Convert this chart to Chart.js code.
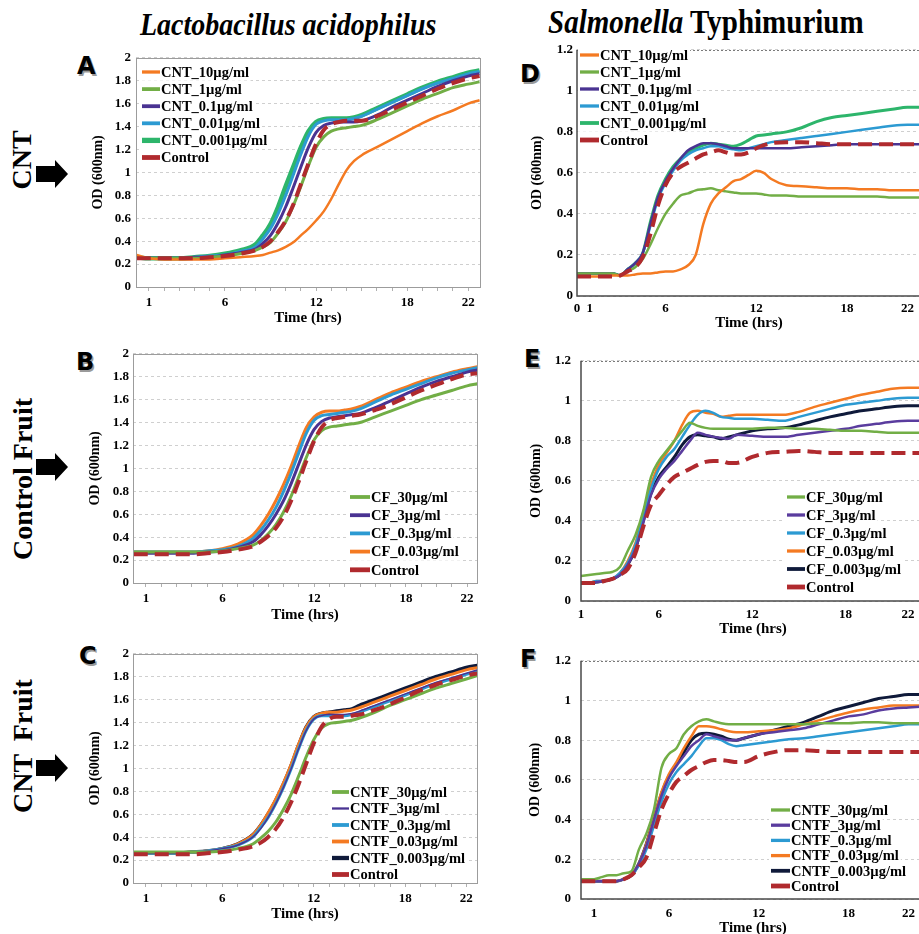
<!DOCTYPE html>
<html lang="en">
<head>
<meta charset="UTF-8">
<title>Growth curves - CNT</title>
<script src="https://cdn.jsdelivr.net/npm/chart.js"></script>
<style>
  html, body { margin: 0; padding: 0; width: 919px; height: 934px; overflow: hidden; background: #fff; }
  .abs { position: absolute; }
  .coltitle { font-family: "Liberation Serif", serif; font-weight: bold; line-height: 1; white-space: nowrap;
              transform: scaleY(1.15); transform-origin: 0 24px; }
  .letter { font-family: "DejaVu Sans", sans-serif; font-weight: bold; font-size: 24px; line-height: 1;
            text-shadow: 1.5px 1.5px 0 #9a9a9a; }
  .rowlab { font-family: "Liberation Serif", serif; font-weight: bold; font-size: 28px; line-height: 1;
            white-space: nowrap; transform: translate(-50%, -50%) rotate(-90deg); }
  canvas { position: absolute; }
</style>
</head>
<body>
  <div class="abs coltitle" style="left:140px; top:12px; font-size:28px;"><i>Lactobacillus acidophilus</i></div>
  <div class="abs coltitle" style="left:548px; top:9px; font-size:29px;"><i>Salmonella</i> Typhimurium</div>

  <div class="abs rowlab" style="left:22px; top:160px;">CNT</div>
  <div class="abs rowlab" style="left:23px; top:479px;">Control Fruit</div>
  <div class="abs rowlab" style="left:23px; top:746px; word-spacing:6px;">CNT Fruit</div>

  <svg class="abs" style="left:36px; top:160px;" width="33" height="29"><polygon points="0,6 19,6 19,0 32,14 19,28 19,22 0,22" fill="#000"/></svg>
  <svg class="abs" style="left:36px; top:453px;" width="33" height="29"><polygon points="0,6 19,6 19,0 32,14 19,28 19,22 0,22" fill="#000"/></svg>
  <svg class="abs" style="left:36px; top:754px;" width="33" height="29"><polygon points="0,6 19,6 19,0 32,14 19,28 19,22 0,22" fill="#000"/></svg>

  <div class="abs letter" style="left:77px; top:54px;">A</div>
  <div class="abs letter" style="left:76px; top:350px;">B</div>
  <div class="abs letter" style="left:79px; top:644px;">C</div>
  <div class="abs letter" style="left:520px; top:62px;">D</div>
  <div class="abs letter" style="left:524px; top:347px;">E</div>
  <div class="abs letter" style="left:520px; top:647px;">F</div>

<script>
// ---- time axes (hrs) ----
const tLacto = [0.2, 1, 2, 3, 4, 5, 6, 7, 8, 8.5, 9, 9.5, 10, 10.5, 11, 11.5, 12, 12.5, 13, 13.5, 14, 14.5, 15, 16, 17, 18, 19, 20, 21, 22, 22.75];
const tSalmD = [0.15, 1, 2, 2.5, 3, 3.5, 4, 4.5, 5, 5.5, 6, 6.5, 7, 7.5, 8, 8.5, 9, 9.5, 10, 10.5, 11, 11.5, 12, 12.5, 13, 14, 15, 16, 17, 18, 19, 20, 21, 22, 22.9];
const tSalmE = [1, 1.5, 2, 2.5, 3, 3.5, 4, 4.5, 5, 5.5, 6, 6.5, 7, 7.5, 8, 8.5, 9, 9.5, 10, 10.5, 11, 12, 13, 14, 15, 16, 17, 18, 19, 20, 21, 22, 23];
const tSalmF = [0.15, 1, 1.5, 2, 2.5, 3, 3.5, 4, 4.5, 5, 5.5, 6, 6.5, 7, 7.5, 8, 8.5, 9, 9.5, 10, 10.5, 11, 12, 13, 14, 15, 16, 17, 18, 19, 20, 21, 22, 23];

// ---- legend labels ----
const labelsCNT = ['CNT_10µg/ml', 'CNT_1µg/ml', 'CNT_0.1µg/ml', 'CNT_0.01µg/ml', 'CNT_0.001µg/ml', 'Control'];
const labelsCF_B = ['CF_30µg/ml', 'CF_3µg/ml', 'CF_0.3µg/ml', 'CF_0.03µg/ml', 'Control'];
const labelsCF_E = ['CF_30µg/ml', 'CF_3µg/ml', 'CF_0.3µg/ml', 'CF_0.03µg/ml', 'CF_0.003µg/ml', 'Control'];
const labelsCNTF = ['CNTF_30µg/ml', 'CNTF_3µg/ml', 'CNTF_0.3µg/ml', 'CNTF_0.03µg/ml', 'CNTF_0.003µg/ml', 'Control'];

// ---- tick labels ----
const lactoLabelHours = [1, 6, 12, 18, 22];
const lactoMinorHours = [1, 2, 3, 4, 5, 6, 7, 8, 9, 10, 11, 12, 13, 14, 15, 16, 17, 18, 19, 20, 21, 22];
const dTickHours = [0.15, 1, 6, 12, 18, 22];
const dTickLabels = ['0', '1', '6', '12', '18', '22'];
const salmTickHours = [1, 6, 12, 18, 22];

// ---- A: L. acidophilus + CNT ----
const cnt10A   = [0.28, 0.25, 0.24, 0.24, 0.24, 0.24, 0.25, 0.26, 0.27, 0.28, 0.30, 0.32, 0.35, 0.39, 0.45, 0.51, 0.58, 0.66, 0.77, 0.90, 1.02, 1.10, 1.15, 1.22, 1.29, 1.36, 1.43, 1.49, 1.54, 1.60, 1.63];
const cnt1A    = [0.26, 0.25, 0.25, 0.25, 0.25, 0.26, 0.27, 0.29, 0.32, 0.35, 0.39, 0.47, 0.57, 0.71, 0.88, 1.06, 1.22, 1.31, 1.36, 1.38, 1.39, 1.40, 1.41, 1.46, 1.52, 1.58, 1.64, 1.69, 1.74, 1.77, 1.79];
const cnt01A   = [0.26, 0.25, 0.25, 0.25, 0.26, 0.26, 0.28, 0.30, 0.33, 0.38, 0.45, 0.56, 0.70, 0.87, 1.05, 1.22, 1.35, 1.41, 1.43, 1.44, 1.44, 1.44, 1.45, 1.50, 1.57, 1.63, 1.69, 1.75, 1.80, 1.84, 1.86];
const cnt001A  = [0.26, 0.25, 0.25, 0.25, 0.26, 0.27, 0.28, 0.31, 0.35, 0.42, 0.51, 0.64, 0.80, 0.98, 1.16, 1.32, 1.42, 1.45, 1.46, 1.46, 1.46, 1.47, 1.49, 1.55, 1.61, 1.67, 1.73, 1.78, 1.82, 1.86, 1.88];
const cnt0001A = [0.26, 0.25, 0.25, 0.25, 0.26, 0.27, 0.29, 0.32, 0.37, 0.45, 0.55, 0.70, 0.88, 1.05, 1.22, 1.36, 1.44, 1.465, 1.47, 1.47, 1.47, 1.48, 1.50, 1.56, 1.62, 1.68, 1.74, 1.79, 1.83, 1.87, 1.89];
const controlA = [0.25, 0.25, 0.25, 0.25, 0.25, 0.26, 0.27, 0.29, 0.32, 0.35, 0.40, 0.48, 0.58, 0.72, 0.90, 1.08, 1.25, 1.37, 1.42, 1.44, 1.45, 1.45, 1.45, 1.49, 1.55, 1.61, 1.67, 1.73, 1.78, 1.82, 1.84];

// ---- B: L. acidophilus + control fruit ----
const cf30B    = [0.27, 0.27, 0.27, 0.27, 0.27, 0.27, 0.28, 0.30, 0.33, 0.37, 0.43, 0.51, 0.62, 0.76, 0.93, 1.10, 1.25, 1.33, 1.36, 1.37, 1.38, 1.39, 1.40, 1.45, 1.50, 1.55, 1.60, 1.64, 1.68, 1.72, 1.74];
const cf3B     = [0.26, 0.26, 0.26, 0.26, 0.26, 0.27, 0.28, 0.31, 0.36, 0.42, 0.50, 0.60, 0.72, 0.87, 1.04, 1.21, 1.34, 1.41, 1.44, 1.45, 1.46, 1.47, 1.48, 1.53, 1.59, 1.65, 1.71, 1.76, 1.80, 1.84, 1.86];
const cf03B    = [0.27, 0.27, 0.27, 0.27, 0.27, 0.28, 0.29, 0.32, 0.39, 0.46, 0.55, 0.66, 0.80, 0.96, 1.14, 1.31, 1.42, 1.46, 1.47, 1.48, 1.49, 1.50, 1.52, 1.58, 1.64, 1.69, 1.74, 1.79, 1.83, 1.86, 1.88];
const cf003B   = [0.27, 0.27, 0.27, 0.27, 0.27, 0.28, 0.30, 0.34, 0.42, 0.50, 0.60, 0.72, 0.86, 1.02, 1.20, 1.36, 1.45, 1.49, 1.50, 1.50, 1.51, 1.52, 1.54, 1.60, 1.66, 1.71, 1.76, 1.80, 1.84, 1.87, 1.89];
const controlB = [0.25, 0.25, 0.25, 0.25, 0.25, 0.26, 0.27, 0.29, 0.32, 0.36, 0.41, 0.48, 0.58, 0.72, 0.89, 1.07, 1.24, 1.36, 1.42, 1.44, 1.45, 1.46, 1.47, 1.51, 1.56, 1.62, 1.68, 1.73, 1.78, 1.82, 1.83];

// ---- C: L. acidophilus + CNT fruit ----
const cntf30C   = [0.27, 0.27, 0.27, 0.27, 0.27, 0.27, 0.28, 0.30, 0.34, 0.39, 0.45, 0.53, 0.64, 0.77, 0.93, 1.10, 1.25, 1.35, 1.39, 1.40, 1.41, 1.42, 1.44, 1.49, 1.55, 1.60, 1.65, 1.70, 1.74, 1.78, 1.81];
const cntf3C    = [0.26, 0.26, 0.26, 0.26, 0.27, 0.28, 0.30, 0.33, 0.40, 0.47, 0.57, 0.69, 0.83, 0.99, 1.17, 1.33, 1.43, 1.46, 1.47, 1.47, 1.47, 1.48, 1.50, 1.55, 1.60, 1.65, 1.70, 1.75, 1.79, 1.83, 1.86];
const cntf03C   = [0.26, 0.26, 0.26, 0.26, 0.27, 0.28, 0.30, 0.33, 0.40, 0.48, 0.57, 0.69, 0.83, 0.99, 1.17, 1.33, 1.43, 1.46, 1.46, 1.46, 1.46, 1.47, 1.49, 1.54, 1.59, 1.64, 1.69, 1.74, 1.78, 1.82, 1.85];
const cntf003C  = [0.26, 0.26, 0.26, 0.26, 0.27, 0.28, 0.30, 0.34, 0.42, 0.50, 0.61, 0.73, 0.87, 1.03, 1.21, 1.36, 1.45, 1.48, 1.49, 1.49, 1.50, 1.51, 1.53, 1.58, 1.63, 1.68, 1.73, 1.78, 1.82, 1.86, 1.88];
const cntf0003C = [0.26, 0.26, 0.26, 0.26, 0.27, 0.28, 0.30, 0.34, 0.42, 0.50, 0.60, 0.72, 0.86, 1.02, 1.20, 1.36, 1.45, 1.48, 1.49, 1.50, 1.51, 1.52, 1.55, 1.60, 1.65, 1.70, 1.75, 1.80, 1.84, 1.88, 1.90];
const controlC  = [0.25, 0.25, 0.25, 0.25, 0.25, 0.26, 0.27, 0.29, 0.32, 0.35, 0.40, 0.47, 0.57, 0.70, 0.86, 1.04, 1.22, 1.36, 1.43, 1.45, 1.45, 1.46, 1.47, 1.51, 1.56, 1.62, 1.68, 1.73, 1.77, 1.81, 1.83];

// ---- D: S. Typhimurium + CNT ----
const cnt10D   = [0.095, 0.095, 0.095, 0.10, 0.10, 0.10, 0.105, 0.11, 0.11, 0.115, 0.12, 0.12, 0.13, 0.15, 0.20, 0.35, 0.45, 0.50, 0.53, 0.56, 0.57, 0.59, 0.61, 0.60, 0.57, 0.54, 0.535, 0.53, 0.525, 0.525, 0.52, 0.52, 0.515, 0.515, 0.515];
const cnt1D    = [0.11, 0.11, 0.11, 0.11, 0.10, 0.12, 0.14, 0.18, 0.25, 0.33, 0.40, 0.45, 0.49, 0.50, 0.515, 0.52, 0.525, 0.515, 0.51, 0.505, 0.50, 0.50, 0.50, 0.495, 0.49, 0.49, 0.485, 0.485, 0.485, 0.485, 0.485, 0.485, 0.48, 0.48, 0.48];
const cnt01D   = [0.11, 0.11, 0.11, 0.11, 0.10, 0.13, 0.16, 0.21, 0.35, 0.48, 0.56, 0.62, 0.67, 0.71, 0.73, 0.745, 0.745, 0.74, 0.73, 0.72, 0.72, 0.72, 0.72, 0.72, 0.72, 0.72, 0.725, 0.73, 0.735, 0.74, 0.74, 0.74, 0.74, 0.74, 0.74];
const cnt001D  = [0.11, 0.11, 0.11, 0.11, 0.10, 0.13, 0.16, 0.21, 0.34, 0.47, 0.55, 0.61, 0.66, 0.69, 0.71, 0.72, 0.73, 0.73, 0.72, 0.715, 0.71, 0.72, 0.73, 0.74, 0.75, 0.76, 0.77, 0.78, 0.79, 0.80, 0.81, 0.82, 0.83, 0.835, 0.835];
const cnt0001D = [0.11, 0.11, 0.11, 0.11, 0.10, 0.13, 0.16, 0.21, 0.36, 0.49, 0.57, 0.63, 0.67, 0.70, 0.72, 0.735, 0.745, 0.74, 0.735, 0.73, 0.74, 0.76, 0.78, 0.785, 0.79, 0.80, 0.82, 0.85, 0.87, 0.88, 0.89, 0.90, 0.91, 0.92, 0.92];
const controlD = [0.095, 0.095, 0.095, 0.095, 0.10, 0.12, 0.14, 0.19, 0.30, 0.44, 0.54, 0.60, 0.63, 0.65, 0.67, 0.69, 0.70, 0.71, 0.70, 0.69, 0.69, 0.70, 0.72, 0.735, 0.745, 0.75, 0.75, 0.745, 0.74, 0.74, 0.74, 0.74, 0.74, 0.74, 0.74];

// ---- E: S. Typhimurium + control fruit ----
const cf30E    = [0.125, 0.13, 0.135, 0.14, 0.145, 0.17, 0.25, 0.33, 0.45, 0.62, 0.70, 0.75, 0.80, 0.85, 0.89, 0.875, 0.865, 0.86, 0.86, 0.86, 0.86, 0.86, 0.865, 0.865, 0.86, 0.86, 0.855, 0.85, 0.85, 0.845, 0.84, 0.84, 0.84];
const cf3E     = [0.09, 0.09, 0.095, 0.10, 0.11, 0.13, 0.18, 0.26, 0.39, 0.53, 0.61, 0.66, 0.70, 0.75, 0.80, 0.84, 0.83, 0.82, 0.815, 0.81, 0.83, 0.825, 0.82, 0.82, 0.83, 0.84, 0.85, 0.86, 0.875, 0.885, 0.895, 0.90, 0.90];
const cf03E    = [0.09, 0.09, 0.10, 0.10, 0.11, 0.14, 0.19, 0.28, 0.42, 0.56, 0.66, 0.72, 0.76, 0.82, 0.88, 0.93, 0.95, 0.94, 0.92, 0.915, 0.91, 0.91, 0.905, 0.90, 0.92, 0.94, 0.96, 0.98, 0.99, 1.00, 1.01, 1.015, 1.015];
const cf003E   = [0.09, 0.09, 0.10, 0.10, 0.11, 0.14, 0.20, 0.29, 0.44, 0.58, 0.68, 0.74, 0.80, 0.88, 0.94, 0.95, 0.94, 0.935, 0.92, 0.925, 0.93, 0.93, 0.93, 0.93, 0.945, 0.97, 0.99, 1.01, 1.03, 1.045, 1.06, 1.065, 1.065];
const cf0003E  = [0.09, 0.09, 0.095, 0.10, 0.11, 0.13, 0.18, 0.26, 0.40, 0.54, 0.62, 0.67, 0.72, 0.78, 0.82, 0.83, 0.825, 0.82, 0.81, 0.82, 0.83, 0.85, 0.86, 0.865, 0.88, 0.90, 0.92, 0.935, 0.95, 0.96, 0.97, 0.975, 0.975];
const controlE = [0.09, 0.09, 0.09, 0.10, 0.11, 0.13, 0.16, 0.24, 0.37, 0.48, 0.53, 0.58, 0.62, 0.64, 0.66, 0.68, 0.695, 0.70, 0.70, 0.69, 0.69, 0.72, 0.74, 0.745, 0.75, 0.745, 0.74, 0.74, 0.74, 0.74, 0.74, 0.74, 0.74];

// ---- F: S. Typhimurium + CNT fruit ----
const cntf30F   = [0.10, 0.10, 0.11, 0.12, 0.12, 0.13, 0.14, 0.25, 0.33, 0.45, 0.66, 0.73, 0.76, 0.83, 0.87, 0.895, 0.905, 0.895, 0.885, 0.88, 0.88, 0.88, 0.88, 0.88, 0.88, 0.88, 0.885, 0.885, 0.885, 0.89, 0.89, 0.885, 0.885, 0.885];
const cntf3F    = [0.09, 0.09, 0.09, 0.09, 0.09, 0.10, 0.12, 0.18, 0.27, 0.40, 0.52, 0.61, 0.67, 0.72, 0.77, 0.80, 0.83, 0.82, 0.81, 0.80, 0.80, 0.81, 0.83, 0.84, 0.85, 0.86, 0.88, 0.90, 0.92, 0.93, 0.95, 0.96, 0.965, 0.97];
const cntf03F   = [0.09, 0.09, 0.09, 0.09, 0.09, 0.10, 0.12, 0.17, 0.25, 0.37, 0.49, 0.58, 0.64, 0.68, 0.72, 0.77, 0.81, 0.81, 0.80, 0.78, 0.77, 0.775, 0.785, 0.795, 0.805, 0.81, 0.82, 0.83, 0.84, 0.85, 0.86, 0.87, 0.88, 0.88];
const cntf003F  = [0.09, 0.09, 0.09, 0.09, 0.09, 0.10, 0.12, 0.18, 0.28, 0.41, 0.54, 0.63, 0.69, 0.76, 0.82, 0.87, 0.87, 0.865, 0.855, 0.845, 0.84, 0.84, 0.845, 0.85, 0.86, 0.88, 0.90, 0.92, 0.94, 0.955, 0.965, 0.975, 0.975, 0.975];
const cntf0003F = [0.09, 0.09, 0.09, 0.09, 0.09, 0.10, 0.12, 0.18, 0.28, 0.41, 0.53, 0.62, 0.68, 0.74, 0.80, 0.83, 0.835, 0.83, 0.82, 0.805, 0.80, 0.81, 0.83, 0.85, 0.87, 0.89, 0.92, 0.95, 0.97, 0.99, 1.01, 1.02, 1.03, 1.03];
const controlF  = [0.09, 0.09, 0.09, 0.09, 0.09, 0.10, 0.12, 0.16, 0.21, 0.33, 0.45, 0.53, 0.59, 0.62, 0.65, 0.67, 0.69, 0.70, 0.70, 0.695, 0.69, 0.69, 0.72, 0.74, 0.75, 0.75, 0.745, 0.74, 0.74, 0.74, 0.74, 0.74, 0.74, 0.74];

// line styles
const ORANGE = '#F47A22', LGREEN = '#72AE46', PURPLE = '#4A3392', BLUE = '#2C9AD2',
      BGREEN = '#2DB56B', NAVY = '#0F1A3A', RED = '#B02A2E', LPURPLE = '#5A3C9E';
const SERIF = '"Liberation Serif", "Times New Roman", serif';

// white-backed legend entries drawn inside the plot
const boxLegend = {
  id: 'boxLegend',
  afterDraw(chart, args, opts) {
    const ctx = chart.ctx;
    ctx.save();
    ctx.font = 'bold 14.5px ' + SERIF;
    ctx.textBaseline = 'middle';
    chart.data.datasets.forEach((ds, i) => {
      const y = opts.y + i * opts.gap;
      const tw = ctx.measureText(ds.label).width;
      ctx.fillStyle = '#fff';
      ctx.fillRect(opts.x - 2, y - opts.gap / 2, opts.len + tw + 5, opts.gap);
      ctx.setLineDash([]);
      ctx.strokeStyle = ds.borderColor;
      ctx.lineWidth = Math.max(ds.borderWidth, 1.5) + 0.8;
      ctx.beginPath();
      ctx.moveTo(opts.x, y);
      ctx.lineTo(opts.x + opts.len, y);
      ctx.stroke();
      ctx.fillStyle = '#000';
      ctx.fillText(ds.label, opts.x + opts.len + 1, y + 1);
    });
    ctx.restore();
  }
};

// plot frame: full box (left column) or axis lines + darker top line (right column)
const frame = {
  id: 'frame',
  afterDatasetsDraw(chart, args, opts) {
    const {left, right, top, bottom} = chart.chartArea;
    const ctx = chart.ctx;
    ctx.save();
    if (opts.box) {
      ctx.strokeStyle = '#9c9c9c';
      ctx.lineWidth = 1;
      ctx.strokeRect(Math.round(left) + 0.5, Math.round(top) + 0.5, Math.round(right - left), Math.round(bottom - top));
    } else {
      ctx.strokeStyle = '#7a7a7a';
      ctx.lineWidth = 1;
      ctx.setLineDash([2, 2]);
      ctx.beginPath();
      ctx.moveTo(left, Math.round(top) + 0.5);
      ctx.lineTo(right, Math.round(top) + 0.5);
      ctx.stroke();
      ctx.setLineDash([]);
      ctx.strokeStyle = '#4a4a4a';
      ctx.lineWidth = 1.5;
      ctx.beginPath();
      ctx.moveTo(left, top);
      ctx.lineTo(left, bottom);
      ctx.lineTo(right, bottom);
      ctx.stroke();
    }
    ctx.restore();
  }
};

function series(label, times, values, color, width, dashed) {
  return {
    label: label,
    data: times.map((t, i) => ({x: t, y: values[i]})),
    borderColor: color,
    backgroundColor: color,
    borderWidth: width,
    borderDash: dashed ? [14, 7] : [],
    borderCapStyle: 'butt',
    pointRadius: 0,
    cubicInterpolationMode: 'monotone',
    order: dashed ? 0 : 1
  };
}

function makePanel(p) {
  const padTop = 10, padRight = 10;
  const yW = Math.round(p.L - p.yTitleX + 8.4);
  const xH = Math.round(p.xTitleY + 9 - p.B);
  const cLeft = p.L - yW, cTop = p.T - padTop;
  const canvas = document.createElement('canvas');
  canvas.width = yW + (p.R - p.L) + padRight;
  canvas.height = padTop + (p.B - p.T) + xH;
  canvas.style.left = cLeft + 'px';
  canvas.style.top = cTop + 'px';
  document.body.appendChild(canvas);

  const lactoAxis = p.yMax === 2;
  new Chart(canvas.getContext('2d'), {
    type: 'line',
    data: {datasets: p.datasets},
    plugins: [frame, boxLegend],
    options: {
      responsive: false,
      animation: false,
      layout: {padding: {top: padTop, right: padRight, left: 0, bottom: 0}},
      plugins: {
        legend: {display: false},
        tooltip: {enabled: false},
        frame: {box: lactoAxis},
        boxLegend: {x: p.leg.x - cLeft, y: p.leg.y - cTop, gap: p.leg.gap, len: p.leg.len}
      },
      scales: {
        x: {
          type: 'linear',
          min: p.xMin,
          max: p.xMax,
          afterBuildTicks: s => { s.ticks = p.tickHours.map(v => ({value: v})); },
          afterFit: s => { s.height = xH; },
          grid: lactoAxis
            ? {drawOnChartArea: false, drawTicks: true, tickLength: 4, color: '#b0b0b0'}
            : {display: false, drawTicks: false},
          border: {display: false},
          ticks: {
            autoSkip: false, maxRotation: 0, padding: p.xPad, color: '#000',
            font: {family: SERIF, size: 13, weight: 'bold'},
            callback: p.tickLabel
          },
          title: {display: true, text: 'Time (hrs)', color: '#000', padding: 0,
                  font: {family: SERIF, size: 15, weight: 'bold', lineHeight: 1.2}}
        },
        y: {
          min: 0,
          max: p.yMax,
          afterFit: s => { s.width = yW; },
          ticks: {
            stepSize: 0.2, padding: p.yPad, color: '#000',
            font: {family: SERIF, size: 13, weight: 'bold'},
            callback: v => String(Math.round(v * 10) / 10)
          },
          grid: {drawTicks: false, color: '#cfcfcf', lineWidth: 1},
          border: {display: false, dash: [3, 3]},
          title: {display: true, text: 'OD (600nm)', color: '#000', padding: 0,
                  font: {family: SERIF, size: 14, weight: 'bold', lineHeight: 1.2}}
        }
      }
    }
  });
}

const lactoTickLabel = v => lactoLabelHours.includes(v) ? String(v) : '';
const salmTickLabel = v => String(v);

// A
makePanel({
  L: 136, R: 480, T: 55, B: 287, yTitleX: 98, xTitleY: 318, yMax: 2, xMin: 0.15, xMax: 22.78,
  tickHours: lactoMinorHours, tickLabel: lactoTickLabel, xPad: 4, yPad: 5,
  leg: {x: 142, y: 72, gap: 17.1, len: 18},
  datasets: [
    series(labelsCNT[0], tLacto, cnt10A, ORANGE, 2.5),
    series(labelsCNT[1], tLacto, cnt1A, LGREEN, 3),
    series(labelsCNT[2], tLacto, cnt01A, PURPLE, 3),
    series(labelsCNT[3], tLacto, cnt001A, BLUE, 3),
    series(labelsCNT[4], tLacto, cnt0001A, BGREEN, 4.5),
    series(labelsCNT[5], tLacto, controlA, RED, 4, true)
  ]
});

// B
makePanel({
  L: 133, R: 477, T: 352, B: 583, yTitleX: 95, xTitleY: 615, yMax: 2, xMin: 0.15, xMax: 22.65,
  tickHours: lactoMinorHours, tickLabel: lactoTickLabel, xPad: 4, yPad: 4,
  leg: {x: 350, y: 497, gap: 18.2, len: 20},
  datasets: [
    series(labelsCF_B[0], tLacto, cf30B, LGREEN, 3),
    series(labelsCF_B[1], tLacto, cf3B, PURPLE, 3),
    series(labelsCF_B[2], tLacto, cf03B, BLUE, 3),
    series(labelsCF_B[3], tLacto, cf003B, ORANGE, 3),
    series(labelsCF_B[4], tLacto, controlB, RED, 4, true)
  ]
});

// C
makePanel({
  L: 133, R: 477, T: 652, B: 883, yTitleX: 95, xTitleY: 914, yMax: 2, xMin: 0.15, xMax: 22.7,
  tickHours: lactoMinorHours, tickLabel: lactoTickLabel, xPad: 4, yPad: 4,
  leg: {x: 332, y: 792, gap: 16.5, len: 17},
  datasets: [
    series(labelsCNTF[0], tLacto, cntf30C, LGREEN, 3),
    series(labelsCNTF[1], tLacto, cntf3C, PURPLE, 1.5),
    series(labelsCNTF[2], tLacto, cntf03C, BLUE, 3),
    series(labelsCNTF[3], tLacto, cntf003C, ORANGE, 3),
    series(labelsCNTF[4], tLacto, cntf0003C, NAVY, 3.5),
    series(labelsCNTF[5], tLacto, controlC, RED, 4, true)
  ]
});

// D
makePanel({
  L: 577, R: 921, T: 48, B: 296, yTitleX: 537, xTitleY: 323, yMax: 1.2, xMin: 0.15, xMax: 22.9,
  tickHours: dTickHours, tickLabel: v => dTickLabels[dTickHours.indexOf(v)], xPad: 5, yPad: 4,
  leg: {x: 580, y: 55, gap: 17, len: 19},
  datasets: [
    series(labelsCNT[0], tSalmD, cnt10D, ORANGE, 2.5),
    series(labelsCNT[1], tSalmD, cnt1D, LGREEN, 2.5),
    series(labelsCNT[2], tSalmD, cnt01D, PURPLE, 2.5),
    series(labelsCNT[3], tSalmD, cnt001D, BLUE, 2.5),
    series(labelsCNT[4], tSalmD, cnt0001D, BGREEN, 3),
    series(labelsCNT[5], tSalmD, controlD, RED, 4, true)
  ]
});

// E
makePanel({
  L: 581, R: 925, T: 353, B: 601, yTitleX: 536, xTitleY: 629, yMax: 1.2, xMin: 1, xMax: 23.1,
  tickHours: salmTickHours, tickLabel: salmTickLabel, xPad: 6, yPad: 10,
  leg: {x: 787, y: 497, gap: 18, len: 18},
  datasets: [
    series(labelsCF_E[0], tSalmE, cf30E, LGREEN, 2.5),
    series(labelsCF_E[1], tSalmE, cf3E, LPURPLE, 2.5),
    series(labelsCF_E[2], tSalmE, cf03E, BLUE, 2.5),
    series(labelsCF_E[3], tSalmE, cf003E, ORANGE, 2.5),
    series(labelsCF_E[4], tSalmE, cf0003E, NAVY, 3),
    series(labelsCF_E[5], tSalmE, controlE, RED, 4, true)
  ]
});

// F
makePanel({
  L: 581, R: 925, T: 653, B: 899, yTitleX: 535.5, xTitleY: 928, yMax: 1.2, xMin: 0.13, xMax: 23.1,
  tickHours: salmTickHours, tickLabel: salmTickLabel, xPad: 7, yPad: 10,
  leg: {x: 771, y: 810, gap: 15.2, len: 19},
  datasets: [
    series(labelsCNTF[0], tSalmF, cntf30F, LGREEN, 2.5),
    series(labelsCNTF[1], tSalmF, cntf3F, LPURPLE, 2.5),
    series(labelsCNTF[2], tSalmF, cntf03F, BLUE, 2.5),
    series(labelsCNTF[3], tSalmF, cntf003F, ORANGE, 2.5),
    series(labelsCNTF[4], tSalmF, cntf0003F, NAVY, 3),
    series(labelsCNTF[5], tSalmF, controlF, RED, 4, true)
  ]
});
</script>
</body>
</html>
